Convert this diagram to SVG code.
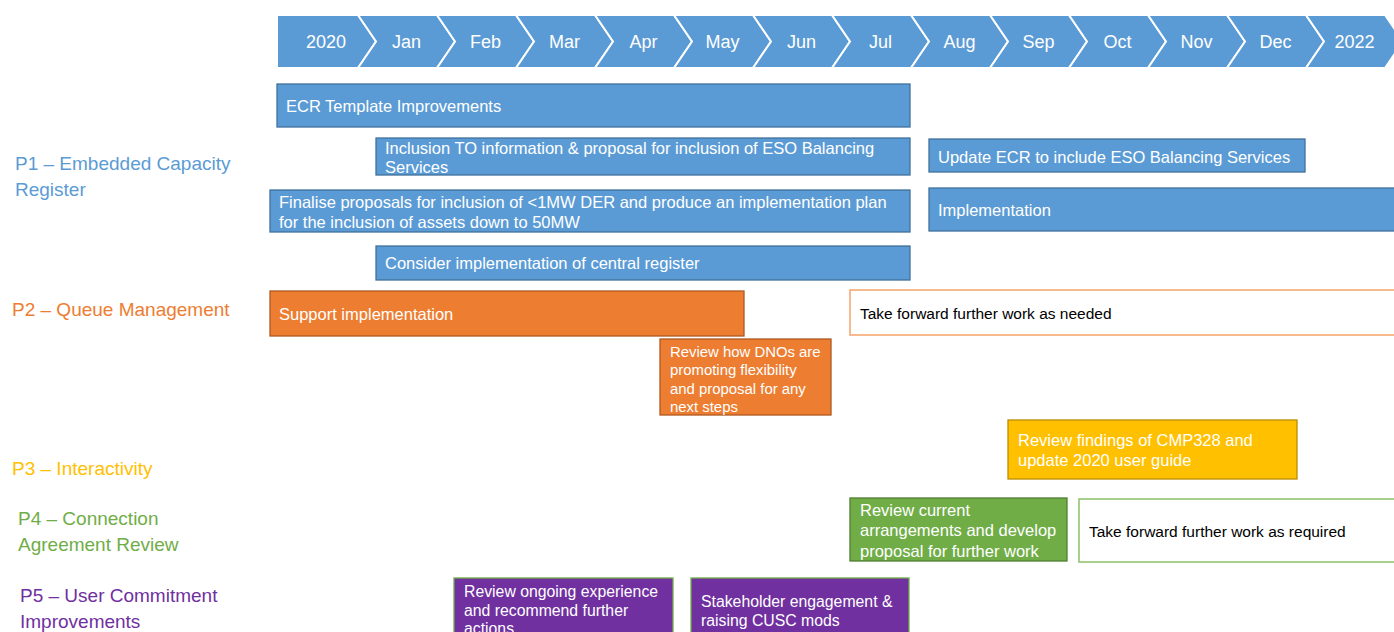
<svg xmlns="http://www.w3.org/2000/svg" width="1394" height="632" viewBox="0 0 1394 632">
<style>
text{font-family:"Liberation Sans",Arial,sans-serif}
.chev{fill:#5B9BD5;stroke:#FFFFFF;stroke-width:2;stroke-linejoin:miter}
.mon{fill:#FFFFFF;font-size:18px;text-anchor:middle}
.blue{fill:#5B9BD5;stroke:#41719C;stroke-width:1.3}
.orange{fill:#ED7D31;stroke:#AE5A21;stroke-width:1.3}
.orangeW{fill:#FFFFFF;stroke:#F4A46A;stroke-width:1.5}
.gold{fill:#FFC000;stroke:#BC8C00;stroke-width:1.3}
.green{fill:#70AD47;stroke:#507E32;stroke-width:1.3}
.greenW{fill:#FFFFFF;stroke:#8CC168;stroke-width:1.5}
.purple{fill:#7030A0;stroke:#70AD47;stroke-width:1.3}
.t{fill:#FFFFFF;font-size:16.5px}
.ts{fill:#FFFFFF;font-size:15.8px}
.tx{fill:#FFFFFF;font-size:14.9px}
.tb{fill:#000000;font-size:15.5px}
.lab{font-size:19px}
</style>

<g id="timeline">
<polygon class="chev" points="277,15 358,15 376,41.5 358,68 277,68"/>
<polygon class="chev" points="358,15 437,15 455,41.5 437,68 358,68 376,41.5"/>
<polygon class="chev" points="437,15 516,15 534,41.5 516,68 437,68 455,41.5"/>
<polygon class="chev" points="516,15 595,15 613,41.5 595,68 516,68 534,41.5"/>
<polygon class="chev" points="595,15 674,15 692,41.5 674,68 595,68 613,41.5"/>
<polygon class="chev" points="674,15 753,15 771,41.5 753,68 674,68 692,41.5"/>
<polygon class="chev" points="753,15 832,15 850,41.5 832,68 753,68 771,41.5"/>
<polygon class="chev" points="832,15 911,15 929,41.5 911,68 832,68 850,41.5"/>
<polygon class="chev" points="911,15 990,15 1008,41.5 990,68 911,68 929,41.5"/>
<polygon class="chev" points="990,15 1069,15 1087,41.5 1069,68 990,68 1008,41.5"/>
<polygon class="chev" points="1069,15 1148,15 1166,41.5 1148,68 1069,68 1087,41.5"/>
<polygon class="chev" points="1148,15 1227,15 1245,41.5 1227,68 1148,68 1166,41.5"/>
<polygon class="chev" points="1227,15 1306,15 1324,41.5 1306,68 1227,68 1245,41.5"/>
<polygon class="chev" points="1306,15 1385,15 1403,41.5 1385,68 1306,68 1324,41.5"/>
<text class="mon" x="326" y="48">2020</text>
<text class="mon" x="406.5" y="48">Jan</text>
<text class="mon" x="485.5" y="48">Feb</text>
<text class="mon" x="564.5" y="48">Mar</text>
<text class="mon" x="643.5" y="48">Apr</text>
<text class="mon" x="722.5" y="48">May</text>
<text class="mon" x="801.5" y="48">Jun</text>
<text class="mon" x="880.5" y="48">Jul</text>
<text class="mon" x="959.5" y="48">Aug</text>
<text class="mon" x="1038.5" y="48">Sep</text>
<text class="mon" x="1117.5" y="48">Oct</text>
<text class="mon" x="1196.5" y="48">Nov</text>
<text class="mon" x="1275.5" y="48">Dec</text>
<text class="mon" x="1354.5" y="48">2022</text>
</g>

<g id="labels">
<text class="lab" fill="#5B9BD5" x="15" y="170">P1 – Embedded Capacity</text>
<text class="lab" fill="#5B9BD5" x="15" y="196">Register</text>
<text class="lab" fill="#ED7D31" x="12" y="316">P2 – Queue Management</text>
<text class="lab" fill="#FFC000" x="12" y="475">P3 – Interactivity</text>
<text class="lab" fill="#70AD47" x="18" y="525">P4 – Connection</text>
<text class="lab" fill="#70AD47" x="18" y="551">Agreement Review</text>
<text class="lab" fill="#7030A0" x="20" y="602">P5 – User Commitment</text>
<text class="lab" fill="#7030A0" x="20" y="628">Improvements</text>
</g>

<g id="connectors"></g>

<g id="ecr-template">
<rect class="blue" x="277" y="84" width="633" height="43"/>
<text class="t" x="286" y="112">ECR Template Improvements</text>
</g>
<g id="inclusion-to">
<rect class="blue" x="376" y="138" width="534" height="37"/>
<text class="t" x="385" y="154">Inclusion TO information &amp; proposal for inclusion of ESO Balancing</text>
<text class="t" x="385" y="173">Services</text>
</g>
<g id="update-ecr">
<rect class="blue" x="929" y="139" width="376" height="33"/>
<text class="t" x="938" y="163">Update ECR to include ESO Balancing Services</text>
</g>
<g id="finalise">
<rect class="blue" x="270" y="190" width="640" height="42"/>
<text class="t" x="279" y="208">Finalise proposals for inclusion of &lt;1MW DER and produce an implementation plan</text>
<text class="t" x="279" y="228">for the inclusion of assets down to 50MW</text>
</g>
<g id="implementation">
<rect class="blue" x="929" y="188" width="470" height="43"/>
<text class="t" x="938" y="216">Implementation</text>
</g>
<g id="central-register">
<rect class="blue" x="376" y="246" width="534" height="34"/>
<text class="t" x="385" y="269">Consider implementation of central register</text>
</g>

<g id="support-implementation">
<rect class="orange" x="270" y="291" width="474" height="45"/>
<text class="t" x="279" y="320">Support implementation</text>
</g>
<g id="take-forward-needed">
<rect class="orangeW" x="850" y="290" width="550" height="45"/>
<text class="tb" x="860" y="318.5">Take forward further work as needed</text>
</g>
<g id="review-dnos">
<rect class="orange" x="660" y="339" width="171" height="76"/>
<text class="tx" x="670" y="356.5">Review how DNOs are</text>
<text class="tx" x="670" y="375">promoting flexibility</text>
<text class="tx" x="670" y="393.5">and proposal for any</text>
<text class="tx" x="670" y="412">next steps</text>
</g>

<g id="review-cmp328">
<rect class="gold" x="1008" y="420" width="289" height="59"/>
<text class="t" x="1018" y="446">Review findings of CMP328 and</text>
<text class="t" x="1018" y="466">update 2020 user guide</text>
</g>

<g id="review-current">
<rect class="green" x="850" y="498" width="217" height="63"/>
<text class="t" x="860" y="516">Review current</text>
<text class="t" x="860" y="536">arrangements and develop</text>
<text class="t" x="860" y="557">proposal for further work</text>
</g>
<g id="take-forward-required">
<rect class="greenW" x="1079" y="499" width="320" height="63"/>
<text class="tb" x="1089" y="536.5">Take forward further work as required</text>
</g>

<g id="review-ongoing">
<rect class="purple" x="454" y="578" width="219" height="60"/>
<text class="ts" x="464" y="597">Review ongoing experience</text>
<text class="ts" x="464" y="615.5">and recommend further</text>
<text class="ts" x="464" y="634">actions</text>
</g>
<g id="stakeholder">
<rect class="purple" x="691" y="578" width="218" height="60"/>
<text class="ts" x="701" y="607">Stakeholder engagement &amp;</text>
<text class="ts" x="701" y="626">raising CUSC mods</text>
</g>
</svg>
